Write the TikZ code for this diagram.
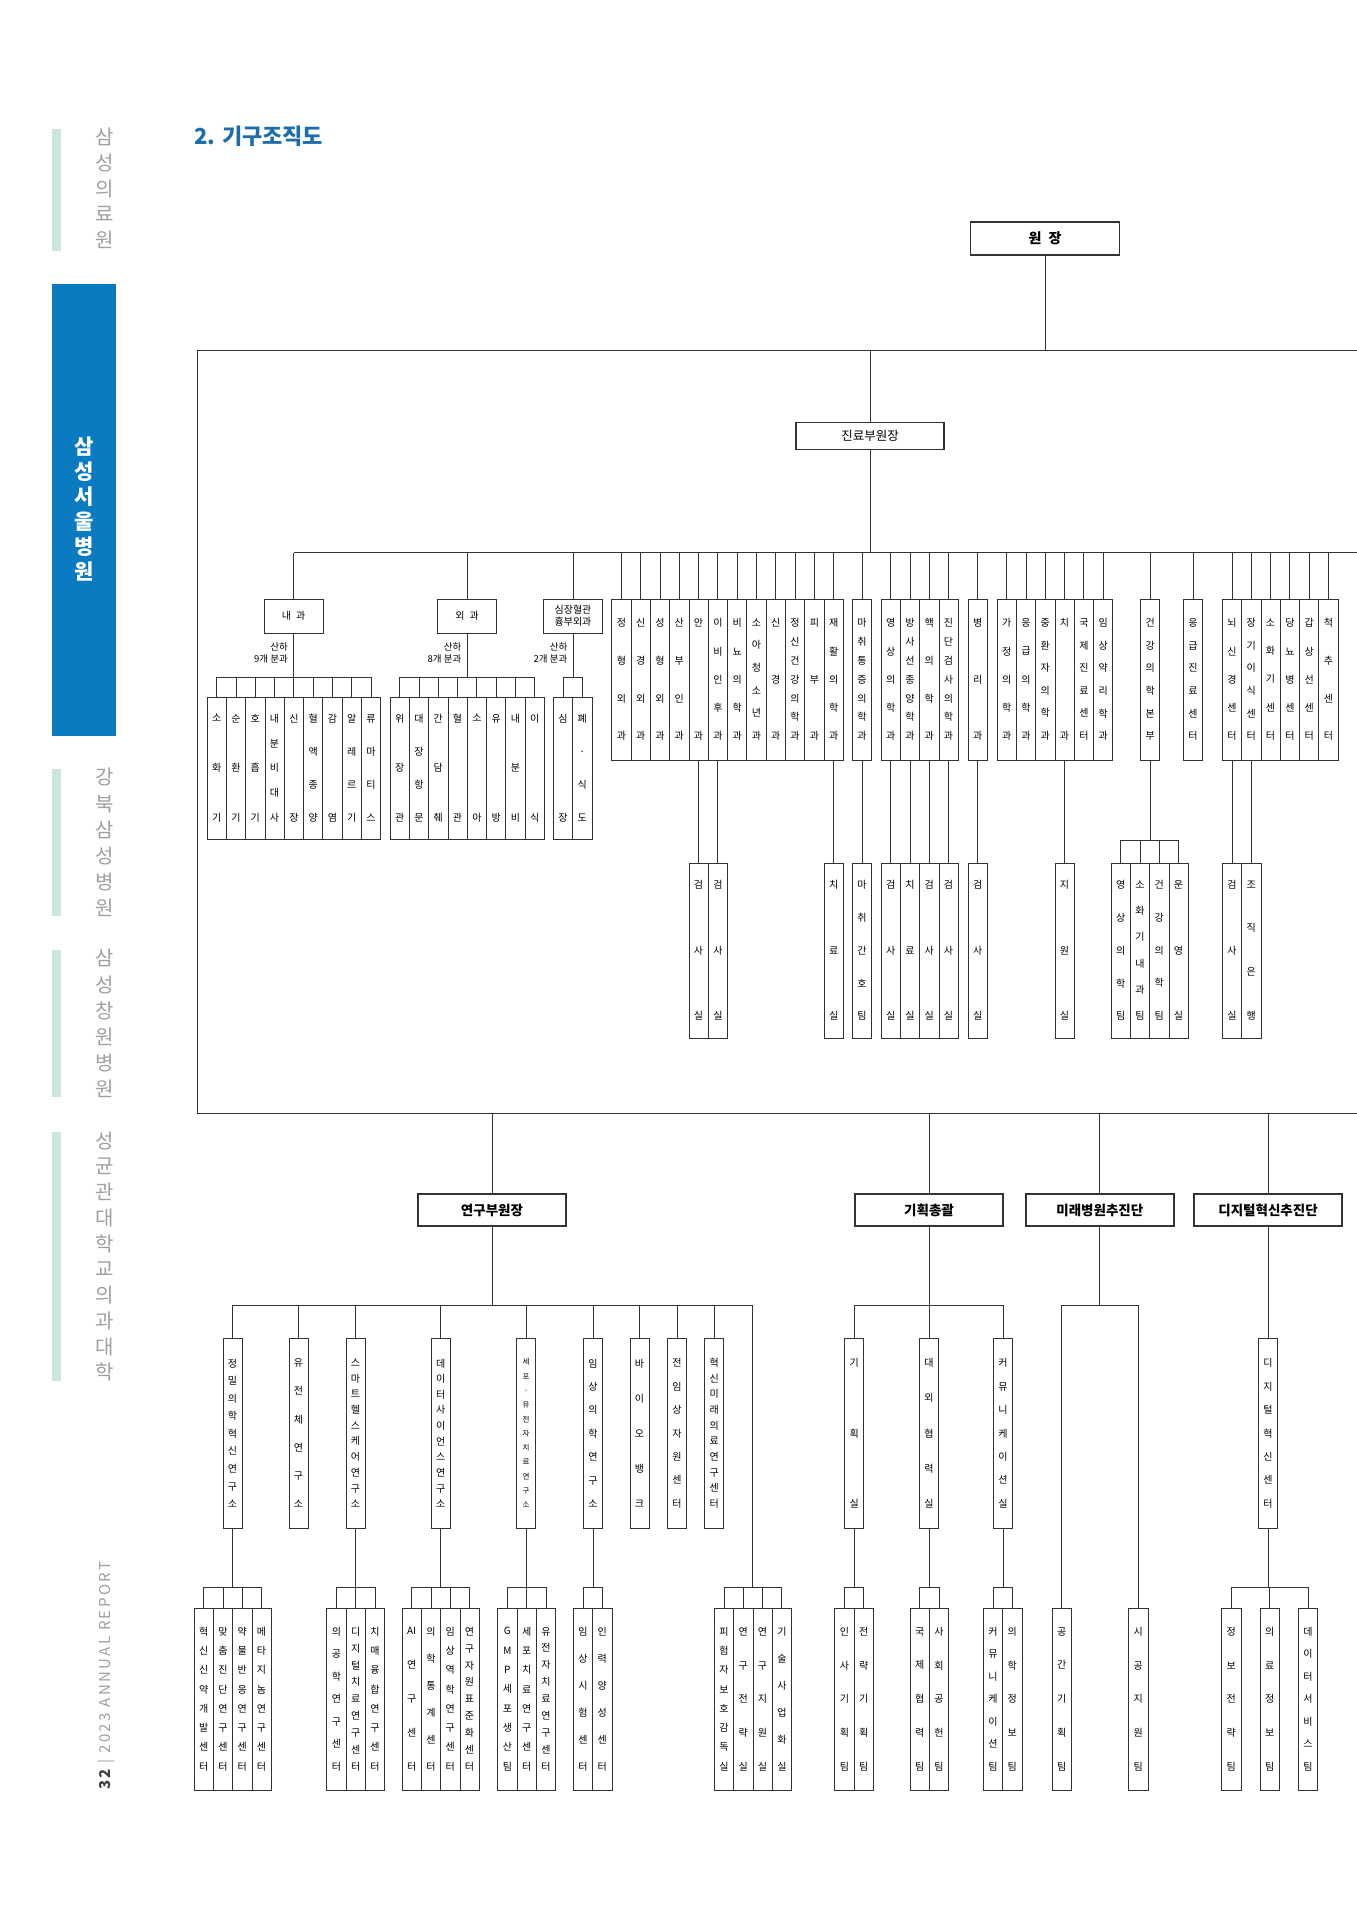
\documentclass[tikz,border=0pt]{standalone}
\usepackage{fontspec}
\setmainfont{Noto Sans CJK KR}
\usetikzlibrary{positioning,calc}

\definecolor{linec}{HTML}{333333}
\definecolor{mint}{HTML}{CDE7DD}
\definecolor{sbblue}{HTML}{0B7BC1}
\definecolor{sbgray}{HTML}{A0A0A0}
\definecolor{titleblue}{HTML}{1C6DAE}

\def\vtend{}
\def\vtendmark{\vtend}
\newcommand\colH{100pt}
\newcommand\txtAI{AI}
\newcommand\vtfirst[1]{#1\par\vtnext}
\newcommand\vtnext[1]{\def\vtarg{#1}\ifx\vtarg\vtendmark\else\vfill#1\par\expandafter\vtnext\fi}
\newcommand\vtxt[1]{\parbox[c][\colH][s]{1.4em}{\centering\expandafter\vtfirst#1\vtend}}
\newcommand\colrow[5]{%
  \foreach \t [count=\i] in {#5}
    \node[#4, anchor=north west] (#1\i) at ({#2+(\i-1)*19.3}, #3) {\vtxt{\t}};}
\newcommand\fan[4]{%
  \foreach \k in {1,...,#3}
    \draw[wire] (#1) |- ($(#2\k.north)+(0,#4)$) -- (#2\k.north);}

\begin{document}
\begin{tikzpicture}[x=1pt, y=-1pt,
  wire/.style={draw=linec, line width=0.8pt},
  texth/.code={\def\colH{#1}},
  box/.style={draw=linec, line width=0.8pt, inner sep=0pt, outer sep=0pt},
  col/.style={box, minimum width=19.3pt, font=\fontsize{10}{12}\selectfont},
  toprow/.style={col, minimum height=161pt, texth=121pt},
  subrow/.style={col, minimum height=175pt, texth=139pt},
  branch/.style={col, minimum height=142pt, texth=107pt},
  inst/.style={col, minimum width=19pt, minimum height=190.5pt, texth=149pt},
  instsm/.style={inst, font=\fontsize{7.5}{9}\selectfont},
  leaf/.style={col, minimum height=182pt, texth=143pt},
  dept/.style={box, minimum width=59pt, minimum height=34pt, align=center, font=\fontsize{10}{12}\selectfont},
  head/.style={box, line width=1.6pt, minimum width=148pt, minimum height=32pt, font=\bfseries\fontsize{13.5}{16}\selectfont},
  note/.style={inner sep=0pt, align=right, font=\fontsize{9.5}{12.7}\selectfont},
  sidelab/.style={inner sep=0pt, text=sbgray, font=\fontsize{20}{22}\selectfont}]
  \useasboundingbox (0,0) rectangle (1357,1920);
  \clip (0,0) rectangle (1357,1920);
  \fill[white] (0,0) rectangle (1357,1920);

  \fill[mint] (52,129) rectangle (61,251);
  \fill[sbblue] (52,284) rectangle (116,736);
  \fill[mint] (52,769) rectangle (61,916);
  \fill[mint] (52,950) rectangle (61,1097);
  \fill[mint] (52,1132) rectangle (61,1381);
  \node[sidelab, texth=119pt] (sb1) at (105,188.5) {\vtxt{삼성의료원}};
  \node[sidelab, texth=142pt, text=white, font=\bfseries\fontsize{21}{24}\selectfont] (sb2) at (84,509) {\vtxt{삼성서울병원}};
  \node[sidelab, texth=147pt] (sb3) at (105,842.5) {\vtxt{강북삼성병원}};
  \node[sidelab, texth=147pt] (sb4) at (105,1023.5) {\vtxt{삼성창원병원}};
  \node[sidelab, texth=248pt] (sb5) at (105,1256.5) {\vtxt{성균관대학교의과대학}};
  \node[rotate=90, anchor=west, inner sep=0pt, text=sbgray, font=\fontsize{15}{17}\selectfont\addfontfeature{LetterSpace=16}] (foot) at (106,1790) {{\bfseries\color{black!75}32} | 2023 ANNUAL REPORT};
  \node[anchor=west, inner sep=0pt, text=titleblue, font=\bfseries\fontsize{22}{26}\selectfont] (title) at (194,136) {2. 기구조직도};

  \node[head, minimum width=149pt, minimum height=33pt, font=\bfseries\fontsize{14}{16}\selectfont] (won) at (1045,238.5) {원\enspace 장};
  \draw[wire, line width=0.9pt] (197,350) rectangle (1420,1113);
  \coordinate (ftop) at (0,350);
  \coordinate (fbot) at (0,1113);
  \node[box, line width=1.2pt, minimum width=148pt, minimum height=27pt, font=\fontsize{12.5}{14}\selectfont] (jin) at (870,436) {진료부원장};
  \draw[wire] (won.south) -- (won.south |- ftop);
  \draw[wire] (jin.north |- ftop) -- (jin.north);

  \node[dept] (nae) at (293.5,616) {내\enspace 과};
  \node[dept] (oe) at (467,616) {외\enspace 과};
  \node[dept] (sim) at (573,616) {심장혈관\\흉부외과};
  \colrow{m}{611.7}{599}{toprow}{정형외과,신경외과,성형외과,산부인과,안과,이비인후과,비뇨의학과,소아청소년과,신경과,정신건강의학과,피부과,재활의학과}
  \node[toprow, anchor=north west] (ma) at (852.4,599) {\vtxt{마취통증의학과}};
  \colrow{ra}{881}{599}{toprow}{영상의학과,방사선종양학과,핵의학과,진단검사의학과}
  \node[toprow, anchor=north west] (byeong) at (968,599) {\vtxt{병리과}};
  \colrow{ga}{997}{599}{toprow}{가정의학과,응급의학과,중환자의학과,치과,국제진료센터,임상약리학과}
  \node[toprow, anchor=north west] (geon) at (1140.5,599) {\vtxt{건강의학본부}};
  \node[toprow, anchor=north west] (eung) at (1183.3,599) {\vtxt{응급진료센터}};
  \colrow{ce}{1222.3}{599}{toprow}{뇌신경센터,장기이식센터,소화기센터,당뇨병센터,갑상선센터,척추센터}

  \coordinate (topbar) at (0,552.5);
  \coordinate (barend) at (1420,552.5);
  \draw[wire] (jin.south) -- (jin.south |- topbar);
  \draw[wire] (nae.north |- topbar) -- (barend);
  \foreach \n in {nae,oe,sim,ma,byeong,geon,eung}
    \draw[wire] (\n.north |- topbar) -- (\n.north);
  \foreach \g/\c in {m/12,ra/4,ga/6,ce/6}
    \foreach \k in {1,...,\c}
      \draw[wire] (\g\k.north |- topbar) -- (\g\k.north);

  \colrow{n}{207}{697}{branch}{소화기,순환기,호흡기,내분비대사,신장,혈액종양,감염,알레르기,류마티스}
  \colrow{o}{390}{697}{branch}{위장관,대장항문,간담췌,혈관,소아,유방,내분비,이식}
  \colrow{s}{553.3}{697}{branch}{심장,폐·식도}
  \fan{nae.south}{n}{9}{-20}
  \fan{oe.south}{o}{8}{-20}
  \fan{sim.south}{s}{2}{-20}
  \node[note, anchor=north east] (naenote) at ($(nae.south)+(-5.5,9)$) {산하\\9개 분과};
  \node[note, anchor=north east] (oenote) at ($(oe.south)+(-5.5,9)$) {산하\\8개 분과};
  \node[note, anchor=north east] (simnote) at ($(sim.south)+(-5.5,9)$) {산하\\2개 분과};

  \coordinate (subtop) at (0,863);
  \foreach \p/\t in {m5/검사실,m6/검사실,m12/치료실,ma/마취간호팀,ra1/검사실,ra2/치료실,ra3/검사실,ra4/검사실,byeong/검사실,ga4/지원실,ce1/검사실,ce2/조직은행}{
    \node[subrow, anchor=north] (s\p) at (\p.south |- subtop) {\vtxt{\t}};
    \draw[wire] (\p.south) -- (s\p.north);}
  \colrow{h}{1111}{863}{subrow}{영상의학팀,소화기내과팀,건강의학팀,운영실}
  \fan{geon.south}{h}{4}{-23}

  \node[head] (yeon) at (492,1210) {연구부원장};
  \node[head] (gi) at (929,1210) {기획총괄};
  \node[head] (mirae) at (1099.8,1210) {미래병원추진단};
  \node[head] (digi) at (1268,1210) {디지털혁신추진단};
  \foreach \n in {yeon,gi,mirae,digi}
    \draw[wire] (\n.north |- fbot) -- (\n.north);

  \foreach \x/\s/\t [count=\i] in {232.5/inst/정밀의학혁신연구소,298.4/inst/유전체연구소,355.4/inst/스마트헬스케어연구소,440.8/inst/데이터사이언스연구소,526/instsm/세포·유전자치료연구소,592.9/inst/임상의학연구소,639.5/inst/바이오뱅크,676.9/inst/전임상자원센터,714.2/inst/혁신미래의료연구센터}
    \node[\s, anchor=north] (r\i) at (\x,1338) {\vtxt{\t}};
  \coordinate (r10) at (752.3,1305);
  \coordinate (lowbar) at (0,1305);
  \fan{yeon.south}{r}{9}{-33}
  \draw[wire] (yeon.south) |- (r10);
  \foreach \x/\t [count=\i] in {854.3/기획실,929/대외협력실,1003/커뮤니케이션실}
    \node[inst, anchor=north] (p\i) at (\x,1338) {\vtxt{\t}};
  \fan{gi.south}{p}{3}{-33}
  \node[inst, anchor=north] (dc) at (digi.south |- r1.north) {\vtxt{디지털혁신센터}};
  \draw[wire] (digi.south) -- (dc.north);

  \colrow{a}{194}{1608}{leaf}{혁신신약개발센터,맞춤진단연구센터,약물반응연구센터,메타지놈연구센터}
  \colrow{b}{326.7}{1608}{leaf}{의공학연구센터,디지털치료연구센터,치매융합연구센터}
  \colrow{c}{402}{1608}{leaf}{\txtAI 연구센터,의학통계센터,임상역학연구센터,연구자원표준화센터}
  \colrow{d}{497.7}{1608}{leaf}{GMP세포생산팀,세포치료연구센터,유전자치료연구센터}
  \colrow{e}{573.3}{1608}{leaf}{임상시험센터,인력양성센터}
  \colrow{f}{714.3}{1608}{leaf}{피험자보호감독실,연구전략실,연구지원실,기술사업화실}
  \colrow{g}{834.7}{1608}{leaf}{인사기획팀,전략기획팀}
  \colrow{k}{910}{1608}{leaf}{국제협력팀,사회공헌팀}
  \colrow{l}{983.3}{1608}{leaf}{커뮤니케이션팀,의학정보팀}
  \node[leaf, anchor=north] (gong) at (1061.7,1608) {\vtxt{공간기획팀}};
  \node[leaf, anchor=north] (sigong) at (1138.3,1608) {\vtxt{시공지원팀}};
  \foreach \x/\t [count=\i] in {1231.3/정보전략팀,1269.7/의료정보팀,1308/데이터서비스팀}
    \node[leaf, anchor=north] (q\i) at (\x,1608) {\vtxt{\t}};

  \fan{r1.south}{a}{4}{-21}
  \fan{r3.south}{b}{3}{-21}
  \fan{r4.south}{c}{4}{-21}
  \fan{r5.south}{d}{3}{-21}
  \fan{r6.south}{e}{2}{-21}
  \fan{r10}{f}{4}{-21}
  \fan{p1.south}{g}{2}{-21}
  \fan{p2.south}{k}{2}{-21}
  \fan{p3.south}{l}{2}{-21}
  \fan{dc.south}{q}{3}{-21}
  \foreach \n in {gong,sigong}
    \draw[wire] (mirae.south) |- (\n.north |- lowbar) -- (\n.north);
\end{tikzpicture}
\end{document}
